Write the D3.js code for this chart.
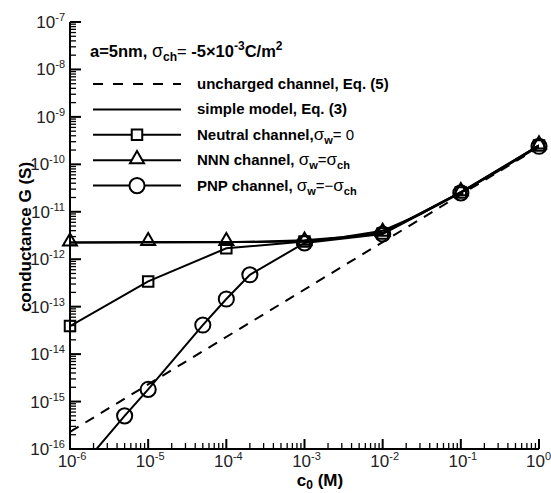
<!DOCTYPE html>
<html>
<head>
<meta charset="utf-8">
<script src="https://cdn.jsdelivr.net/npm/d3@7"></script>
<style>
  body { margin: 0; background: #fff; }
  svg { font-family: "Liberation Sans", Arial, sans-serif; }
</style>
</head>
<body>
<div id="chart"></div>
<script>
// data
var concC = [1e-6, 1e-5, 1e-4, 1e-3, 1e-2, 1e-1, 1];
var unchargedC = [1e-6, 1];
var unchargedG = [2.3e-16, 2.3e-10];
var simpleC = [1e-6, 1e-5, 1e-4, 1e-3, 3e-3, 1e-2, 3e-2, 1e-1, 3e-1, 1];
var simpleG = [2.25e-12, 2.25e-12, 2.27e-12, 2.5e-12, 2.9e-12, 4.0e-12, 8.8e-12, 2.6e-11, 7.2e-11, 2.5e-10];
var neutralG = [3.9e-14, 3.4e-13, 1.7e-12, 2.35e-12, 3.5e-12, 2.55e-11, 2.5e-10];
var nnnG = [2.25e-12, 2.3e-12, 2.3e-12, 2.35e-12, 3.6e-12, 2.6e-11, 2.5e-10];
var pnpC = [1e-6, 5e-6, 1e-5, 5e-5, 1e-4, 2e-4, 1e-3, 1e-2, 1e-1, 1];
var pnpG = [2.2e-17, 5e-16, 1.8e-15, 4.1e-14, 1.45e-13, 4.7e-13, 2.2e-12, 3.4e-12, 2.5e-11, 2.4e-10];
var xExp = [-6, -5, -4, -3, -2, -1, 0];
var yExp = [-16, -15, -14, -13, -12, -11, -10, -9, -8, -7];

var width = 551, height = 493;
var margin = {top: 22, right: 12, bottom: 44, left: 70};

var x = d3.scaleLog().domain([1e-6, 1]).range([margin.left, width - margin.right]);
var y = d3.scaleLog().domain([1e-16, 1e-7]).range([height - margin.bottom, margin.top]);

var svg = d3.select("#chart").append("svg")
    .attr("width", width)
    .attr("height", height);

svg.append("clipPath").attr("id", "clip")
  .append("rect")
    .attr("x", x.range()[0]).attr("y", y.range()[1])
    .attr("width", x.range()[1] - x.range()[0])
    .attr("height", y.range()[0] - y.range()[1]);

function zip(cs, gs) { return cs.map(function(c, i) { return [c, gs[i]]; }); }

var line = d3.line()
    .x(function(d) { return x(d[0]); })
    .y(function(d) { return y(d[1]); });

var plot = svg.append("g").attr("clip-path", "url(#clip)");

plot.append("path")
    .attr("d", line(zip(unchargedC, unchargedG)))
    .attr("fill", "none").attr("stroke", "#000").attr("stroke-width", 2)
    .attr("stroke-dasharray", "10,8");

[[simpleC, simpleG], [concC, neutralG], [concC, nnnG], [pnpC, pnpG]].forEach(function(s) {
  plot.append("path")
      .attr("d", line(zip(s[0], s[1])))
      .attr("fill", "none").attr("stroke", "#000").attr("stroke-width", 2);
});

// markers
var sq = d3.symbol().type(d3.symbolSquare).size(110);
var tri = d3.symbol().type(d3.symbolTriangle).size(85);
var circ = d3.symbol().type(d3.symbolCircle).size(180);

function markers(cs, gs, sym, dy) {
  svg.append("g").selectAll("path")
    .data(zip(cs, gs).filter(function(d) { return d[1] >= 1e-16; }))
    .enter().append("path")
      .attr("d", sym)
      .attr("transform", function(d) { return "translate(" + x(d[0]) + "," + (y(d[1]) + dy) + ")"; })
      .attr("fill", "none").attr("stroke", "#000").attr("stroke-width", 2);
}
markers(concC, neutralG, sq, 0);
markers(concC, nnnG, tri, -1);
markers(pnpC, pnpG, circ, 0);

// axes
var axisG = svg.append("g");
axisG.append("line")
    .attr("x1", x.range()[0]).attr("x2", x.range()[1])
    .attr("y1", y.range()[0]).attr("y2", y.range()[0])
    .attr("stroke", "#000").attr("stroke-width", 2);
axisG.append("line")
    .attr("x1", x.range()[0]).attr("x2", x.range()[0])
    .attr("y1", y.range()[0] + 1).attr("y2", y.range()[1])
    .attr("stroke", "#000").attr("stroke-width", 2);

// x ticks (inward)
x.ticks().forEach(function(t) {
  var major = Math.abs(Math.log10(t) - Math.round(Math.log10(t))) < 1e-9;
  axisG.append("line")
      .attr("x1", x(t)).attr("x2", x(t))
      .attr("y1", y.range()[0]).attr("y2", y.range()[0] - (major ? 10 : 6))
      .attr("stroke", "#000").attr("stroke-width", major ? 2 : 1.3);
});
// y ticks (inward)
y.ticks().forEach(function(t) {
  var major = Math.abs(Math.log10(t) - Math.round(Math.log10(t))) < 1e-9;
  axisG.append("line")
      .attr("x1", x.range()[0]).attr("x2", x.range()[0] + (major ? 11 : 6))
      .attr("y1", y(t)).attr("y2", y(t))
      .attr("stroke", "#000").attr("stroke-width", major ? 2 : 1.3);
});

function powLabel(sel, e) {
  sel.append("tspan").text("10");
  sel.append("tspan").attr("dy", -7).attr("font-size", 11).text(e);
}

xExp.forEach(function(e) {
  var t = svg.append("text")
      .attr("x", x(Math.pow(10, e)) + 2)
      .attr("y", y.range()[0] + 18)
      .attr("text-anchor", e === 0 ? "end" : "middle")
      .attr("font-size", 17)
      .attr("fill", "#222");
  if (e === 0) t.attr("x", width);
  powLabel(t, e);
});
yExp.forEach(function(e) {
  var t = svg.append("text")
      .attr("x", 65)
      .attr("y", y(Math.pow(10, e)) + 6)
      .attr("text-anchor", "end")
      .attr("font-size", 17)
      .attr("fill", "#222");
  powLabel(t, e);
});

// axis titles
var xt = svg.append("text")
    .attr("x", 320).attr("y", 486)
    .attr("text-anchor", "middle")
    .attr("font-size", 17).attr("font-weight", "bold");
xt.append("tspan").text("c");
xt.append("tspan").attr("dy", 3).attr("font-size", 12).text("0");
xt.append("tspan").attr("dy", -3).text(" (M)");

svg.append("text")
    .attr("transform", "translate(31,237) rotate(-90)")
    .attr("text-anchor", "middle")
    .attr("font-size", 17).attr("font-weight", "bold")
    .text("conductance G (S)");

// legend
var title = svg.append("text")
    .attr("x", 90).attr("y", 57)
    .attr("font-size", 16.5).attr("font-weight", "bold");
title.append("tspan").text("a=5nm, ");
title.append("tspan").attr("font-weight", "normal").attr("font-size", 18).text("σ");
title.append("tspan").attr("dy", 4).attr("font-size", 12).text("ch");
title.append("tspan").attr("dy", -4).attr("font-weight", "normal").text("= ");
title.append("tspan").text("-5×10");
title.append("tspan").attr("dy", -7).attr("font-size", 12).text("-3");
title.append("tspan").attr("dy", 7).text("C/m");
title.append("tspan").attr("dy", -7).attr("font-size", 12).text("2");

var legendRows = [
  {dash: true, sym: null, parts: [["uncharged channel, Eq. (5)"]]},
  {dash: false, sym: null, parts: [["simple model, Eq. (3)"]]},
  {dash: false, sym: sq, parts: [["Neutral channel,"], ["σ", "s"], ["w", "b"], ["= 0", "n"]]},
  {dash: false, sym: tri, parts: [["NNN channel, "], ["σ", "s"], ["w", "b"], ["=", "n"], ["σ", "s"], ["ch", "b"]]},
  {dash: false, sym: circ, parts: [["PNP channel, "], ["σ", "s"], ["w", "b"], ["=−", "n"], ["σ", "s"], ["ch", "b"]]}
];

legendRows.forEach(function(r, i) {
  var ly = 84 + i * 25.4;
  svg.append("line")
      .attr("x1", 93).attr("x2", 181).attr("y1", ly).attr("y2", ly)
      .attr("stroke", "#000").attr("stroke-width", 2)
      .attr("stroke-dasharray", r.dash ? "10,10" : null);
  if (r.sym) {
    svg.append("path").attr("d", r.sym)
        .attr("transform", "translate(137," + (ly - (r.sym === tri ? 1 : 0)) + ")")
        .attr("fill", "#fff").attr("stroke", "#000").attr("stroke-width", 2);
  }
  var t = svg.append("text")
      .attr("x", 197).attr("y", ly + 5)
      .attr("font-size", 15).attr("font-weight", "bold");
  var sub = false;
  r.parts.forEach(function(p) {
    var ts = t.append("tspan").text(p[0]);
    if (p[1] === "s" || p[1] === "n") {
      ts.attr("font-weight", "normal");
      if (p[1] === "s") ts.attr("font-size", 17);
      if (sub) { ts.attr("dy", -4); sub = false; }
    } else if (p[1] === "b") {
      ts.attr("font-size", 11).attr("dy", 4);
      sub = true;
    }
  });
});
</script>
</body>
</html>
